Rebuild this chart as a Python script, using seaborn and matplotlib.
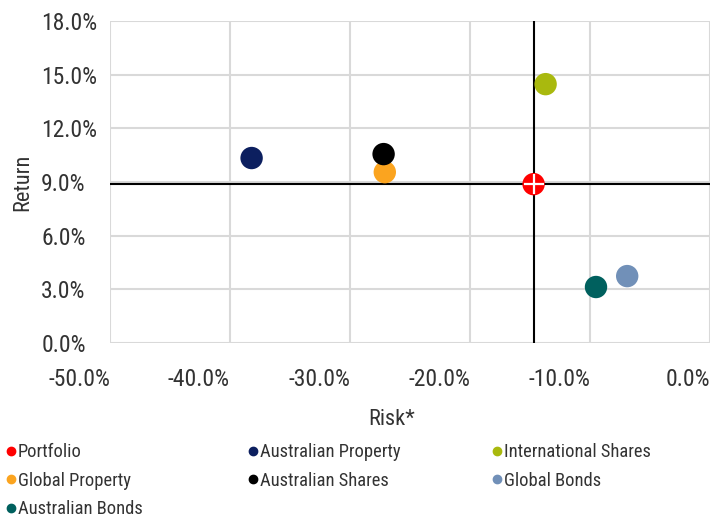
import numpy as np
import pandas as pd
import matplotlib
matplotlib.use("Agg")
from matplotlib import pyplot as plt
from matplotlib import font_manager
from matplotlib.lines import Line2D
from matplotlib.ticker import PercentFormatter
import seaborn as sns

# data (percent units)
names = ["Portfolio", "Australian Property", "International Shares",
         "Global Property", "Australian Shares", "Global Bonds", "Australian Bonds"]
risk = [-14.7, -38.2, -13.7, -27.1, -27.2, -6.9, -9.5]
ret = [8.88, 10.34, 14.47, 9.55, 10.56, 3.74, 3.13]
colors = ["#ff0000", "#0c1f5f", "#a9b90e", "#fba41f", "#000000", "#7190b8", "#00605e"]
x_ticks = [-50, -40, -30, -20, -10, 0]
y_ticks = [0, 3, 6, 9, 12, 15, 18]

df = pd.DataFrame({"name": names, "risk": risk, "ret": ret})
palette = dict(zip(names, colors))

sns.set_style("white")
have = {f.name for f in font_manager.fontManager.ttflist}
family = next((f for f in ["Roboto Condensed", "Archivo Narrow", "Barlow Condensed"]
               if f in have), "DejaVu Sans")
plt.rcParams["font.family"] = [family, "DejaVu Sans"]
plt.rcParams["axes.unicode_minus"] = False

grid_c = "#d9d9d9"
text_c = "#333333"

fig = plt.figure(figsize=(7.10, 5.19), dpi=100)
ax = fig.add_axes([110 / 710, 176 / 519, 600 / 710, 322 / 519])

# crosshair through the portfolio point
ax.axvline(risk[0], color="black", lw=1.5, zorder=2)
ax.axhline(ret[0], color="black", lw=1.5, zorder=2)

sns.scatterplot(data=df, x="risk", y="ret", hue="name", palette=palette,
                s=260, linewidth=0, legend=False, ax=ax, zorder=3, clip_on=False)
# white cross on the portfolio dot
ax.scatter(risk[:1], ret[:1], marker="+", s=190, c="white", linewidths=1.6, zorder=4)

ax.set_xlim(-50, 0)
ax.set_ylim(0, 18)
ax.set_xticks(x_ticks)
ax.set_yticks(y_ticks)
ax.xaxis.set_major_formatter(PercentFormatter(decimals=1))
ax.yaxis.set_major_formatter(PercentFormatter(decimals=1))
ax.grid(True, color=grid_c, lw=1.5, zorder=0)
ax.set_axisbelow(True)
for s in ax.spines.values():
    s.set_visible(False)
ax.tick_params(axis="both", length=10, width=1.5, color=grid_c,
               labelsize=17, labelcolor=text_c)
ax.tick_params(axis="x", pad=8)
# y labels are left-aligned in the reference
ax.tick_params(axis="y", pad=39.5)
for lab in ax.get_xticklabels():
    lab.set_ha("right")
for lab in ax.get_yticklabels():
    lab.set_ha("left")

ax.set_xlabel("Risk*", fontsize=16, color=text_c)
ax.xaxis.set_label_coords(0.47, -0.205)
ax.set_ylabel("Return", fontsize=16, color=text_c, labelpad=6)

# legend laid out row by row in three columns
col_x = [5 / 710, 247 / 710, 491 / 710]
for c in range(3):
    idx = list(range(c, len(names), 3))
    handles = [Line2D([], [], marker="o", ls="", color=colors[i], markersize=6) for i in idx]
    fig.legend(handles, [names[i] for i in idx], loc="upper left",
               bbox_to_anchor=(col_x[c], 1 - 443 / 519), frameon=False,
               fontsize=13.3, labelcolor=text_c, handlelength=0.6,
               handletextpad=0.1, labelspacing=0.58, borderpad=0, borderaxespad=0)

fig.savefig("out.png", dpi=100)
